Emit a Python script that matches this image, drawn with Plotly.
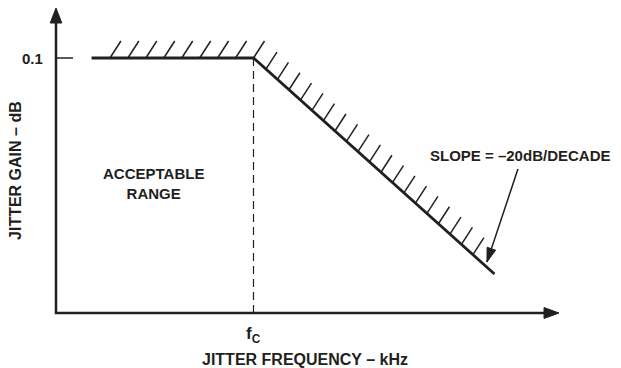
import numpy as np
import plotly.graph_objects as go

# Jitter tolerance mask (frequency normalised so that f_C = 1, gain in dB)
mask_freq = [0.18, 1.0, 2.22]
mask_gain = [0.1, 0.1, 0.0153]

fc = 1.0
flat_gain = 0.1
x_axis_end = 2.547
y_axis_end = 0.1196

y_tick_vals = [0.1]
y_tick_text = ["0.1"]
x_tick_vals = [1.0]
x_tick_text = ["f<sub>C</sub>"]

# hatch ranges along the two mask segments: (start freq, end freq, count)
hatch_runs = [(0.273, 1.0, 9), (1.063, 2.111, 19)]

# slope callout: label anchor, arrow start and arrow tip
slope_label = (1.884, 0.0616)
slope_arrow_from = (2.339, 0.0565)
slope_arrow_to = (2.182, 0.0200)

INK = "#231f20"
FONT = "Liberation Sans"
PX_X = 197.5   # pixels per frequency unit
PX_Y = 2550.0  # pixels per gain unit
PAGE_PAD = 8   # default body margin of the html page
ORIGIN = (56, 313)  # where the axes cross, in page pixels


def to_px(x, y):
    return x * PX_X, -y * PX_Y


def to_data(px, py):
    return px / PX_X, -py / PX_Y


def arrow_head(tip, base_dir, length=15, half_w=5.8):
    # filled triangle pointing to tip; base_dir is the direction the arrow travels (pixels)
    tx, ty = to_px(*tip)
    dx, dy = base_dir
    n = np.hypot(dx, dy)
    ux, uy = dx / n, dy / n
    bx, by = tx - ux * length, ty - uy * length
    pts = [(tx, ty), (bx - uy * half_w, by + ux * half_w), (bx + uy * half_w, by - ux * half_w), (tx, ty)]
    xs, ys = zip(*[to_data(*p) for p in pts])
    return go.Scatter(x=xs, y=ys, mode="lines", fill="toself", fillcolor=INK,
                      line=dict(color=INK, width=1), hoverinfo="skip")


def mask_y(x):
    return float(np.interp(x, mask_freq, mask_gain))


fig = go.Figure()

# axes
head_len = 15
fig.add_trace(go.Scatter(x=[0, 0, x_axis_end - head_len / PX_X], y=[y_axis_end - head_len / PX_Y, 0, 0],
                         mode="lines", line=dict(color=INK, width=2.5), hoverinfo="skip"))
fig.add_trace(arrow_head((0, y_axis_end), (0, -1)))
fig.add_trace(arrow_head((x_axis_end, 0), (1, 0), half_w=5.5))

# y tick mark
fig.add_trace(go.Scatter(x=[0, 17 / PX_X], y=[y_tick_vals[0]] * 2, mode="lines",
                         line=dict(color=INK, width=1.5), hoverinfo="skip"))

# f_C dashed guide
fig.add_trace(go.Scatter(x=[fc, fc], y=[0, flat_gain], mode="lines",
                         line=dict(color=INK, width=1.2, dash="8px,5px"), hoverinfo="skip"))

# hatching above the mask
hx, hy = [], []
hatch_dx, hatch_dy = to_data(11, -17)
for x0, x1, n in hatch_runs:
    for x in np.linspace(x0, x1, n):
        y = mask_y(x)
        hx += [x, x + hatch_dx, None]
        hy += [y, y + hatch_dy, None]
fig.add_trace(go.Scatter(x=hx, y=hy, mode="lines", line=dict(color=INK, width=1.5), hoverinfo="skip"))

# mask line
fig.add_trace(go.Scatter(x=mask_freq, y=mask_gain, mode="lines",
                         line=dict(color=INK, width=2.8), hoverinfo="skip"))

# slope callout arrow
fig.add_trace(go.Scatter(x=[slope_arrow_from[0], slope_arrow_to[0]], y=[slope_arrow_from[1], slope_arrow_to[1]],
                         mode="lines", line=dict(color=INK, width=1.5), hoverinfo="skip"))
fx, fy = to_px(*slope_arrow_from)
tx, ty = to_px(*slope_arrow_to)
fig.add_trace(arrow_head(slope_arrow_to, (tx - fx, ty - fy), length=14, half_w=4.5))

font = dict(family=FONT, size=15, color=INK)
title_font = dict(family=FONT, size=16, color=INK)
texts = [
    dict(x=0.496, y=0.0506, text="<b>ACCEPTABLE<br>RANGE</b>"),
    dict(x=slope_label[0], y=slope_label[1], text="<b>SLOPE = –20dB/DECADE</b>", xanchor="left"),
    dict(x=1.261, y=-0.0184, text="<b>JITTER FREQUENCY – kHz</b>", font=title_font),
    dict(x=-0.2026, y=0.0561, text="<b>JITTER GAIN – dB</b>", textangle=-90, font=title_font),
    dict(x=-11 / PX_X, y=y_tick_vals[0], text="<b>" + y_tick_text[0] + "</b>", xanchor="right"),
    dict(x=x_tick_vals[0], y=-22 / PX_Y, text="<b>" + x_tick_text[0] + "</b>", font=dict(family=FONT, size=17, color=INK)),
]
for t in texts:
    t.setdefault("font", font)
    fig.add_annotation(showarrow=False, xref="x", yref="y", **t)

W, H = 621, 368
ox, oy = ORIGIN[0] - PAGE_PAD, ORIGIN[1] - PAGE_PAD
fig.update_layout(
    width=W, height=H,
    margin=dict(l=0, r=0, t=0, b=0),
    plot_bgcolor="white", paper_bgcolor="white",
    showlegend=False,
    xaxis=dict(range=[-ox / PX_X, (W - ox) / PX_X], visible=False),
    yaxis=dict(range=[-(H - oy) / PX_Y, oy / PX_Y], visible=False),
)

fig.write_html("out.html")
